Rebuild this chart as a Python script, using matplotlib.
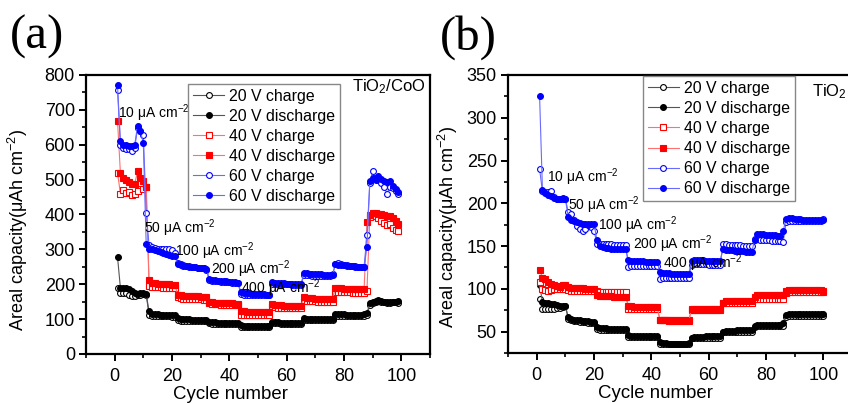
import numpy as np
import matplotlib
matplotlib.use("Agg")
import matplotlib.pyplot as plt
from matplotlib.ticker import MultipleLocator

# ---- data, panel (a): cycles 1..99 ----
cycles_a = np.arange(1, 100)
a_20_ch = [190, 175, 176, 174, 170, 165, 166, 168, 170, 172,
           170, 112, 110, 109, 109, 108, 108, 108, 108, 107, 107,
           97, 96, 96, 95, 95, 95, 95, 94, 94, 94, 94,
           88, 87, 87, 87, 86, 86, 86, 86, 86, 86, 86,
           78, 77, 77, 77, 77, 77, 77, 77, 77, 77, 78,
           88, 88, 88, 87, 87, 87, 87, 87, 87, 87, 87,
           98, 98, 97, 97, 97, 97, 97, 97, 97, 97, 97,
           110, 110, 110, 110, 110, 110, 109, 109, 109, 109, 110,
           112, 140, 147, 150, 152, 150, 148, 146, 145, 148, 148, 145]
a_20_dis = [278, 190, 190, 188, 186, 180, 176, 172, 175, 176,
            172, 122, 116, 115, 114, 113, 113, 112, 112, 112, 112,
            102, 100, 100, 99, 99, 98, 98, 98, 98, 97, 97,
            92, 91, 91, 90, 90, 90, 90, 89, 89, 89, 89,
            82, 81, 80, 80, 80, 80, 80, 80, 79, 79, 80,
            92, 91, 91, 90, 90, 90, 90, 90, 90, 90, 90,
            102, 101, 101, 100, 100, 100, 100, 100, 100, 100, 100,
            115, 114, 114, 114, 113, 113, 113, 113, 113, 113, 114,
            118, 145, 150, 152, 155, 152, 150, 148, 150, 150, 150, 152]
a_40_ch = [520, 460, 470, 462, 465, 455, 460, 468, 490, 472,
           480, 195, 193, 192, 191, 191, 190, 190, 190, 190, 189,
           162, 160, 159, 158, 158, 158, 157, 157, 157, 156, 156,
           145, 143, 142, 142, 141, 141, 141, 140, 140, 140, 140,
           113, 112, 112, 112, 111, 111, 111, 111, 111, 111, 112,
           134, 134, 133, 133, 133, 133, 132, 132, 132, 132, 132,
           152, 152, 151, 151, 151, 150, 150, 150, 150, 150, 150,
           178, 178, 177, 177, 177, 177, 176, 176, 176, 176, 176,
           182, 392, 400, 396, 390, 382, 375, 370, 372, 362, 355, 352]
a_40_dis = [668, 520, 505, 498, 492, 488, 487, 525, 505, 495,
            478, 212, 205, 203, 202, 201, 200, 200, 200, 199, 198,
            170, 168, 167, 166, 166, 165, 165, 165, 164, 164, 164,
            150, 148, 147, 147, 146, 146, 145, 145, 145, 144, 144,
            124, 122, 121, 121, 120, 120, 120, 120, 120, 119, 119,
            142, 141, 140, 140, 139, 139, 139, 138, 138, 138, 138,
            162, 161, 160, 160, 159, 159, 159, 158, 158, 158, 158,
            190, 188, 188, 187, 187, 186, 186, 186, 185, 185, 185,
            378, 398, 405, 403, 402, 400, 398, 396, 395, 390, 380, 372]
a_60_ch = [758, 600, 590, 588, 587, 582, 592, 648, 640, 628,
           405, 312, 308, 305, 302, 300, 300, 300, 300, 298, 290,
           262, 258, 255, 253, 251, 250, 249, 248, 247, 246, 240,
           212, 210, 209, 208, 207, 207, 206, 206, 205, 205, 205,
           172, 170, 169, 169, 168, 168, 168, 168, 168, 168, 170,
           200, 201, 201, 200, 200, 200, 200, 199, 199, 199, 198,
           226, 227, 226, 225, 225, 225, 224, 224, 224, 223, 228,
           258, 260, 258, 256, 254, 253, 252, 251, 250, 250, 250,
           340, 490, 525, 505, 498, 490, 478, 460, 480, 475, 468, 460]
a_60_dis = [770, 610, 600, 598, 597, 596, 600, 655, 638, 605,
            315, 302, 300, 298, 296, 293, 290, 288, 285, 282, 280,
            258, 255, 253, 252, 250, 250, 249, 248, 247, 246, 245,
            216, 213, 211, 210, 209, 208, 208, 207, 206, 206, 205,
            178, 176, 175, 174, 173, 172, 172, 171, 171, 170, 170,
            206, 205, 204, 203, 203, 202, 202, 201, 201, 200, 200,
            232, 231, 230, 229, 229, 228, 228, 227, 227, 226, 226,
            257, 256, 255, 254, 253, 252, 251, 250, 250, 249, 249,
            308, 495, 505, 500, 510, 502, 495, 492, 497, 482, 472, 465]

# ---- data, panel (b): cycles 1..100 ----
cycles_b = np.arange(1, 101)
b_20_ch = [88, 77, 76, 76, 77, 77, 78, 78, 79, 80,
           65, 63, 62, 62, 61, 61, 61, 60, 60, 60,
           53, 52, 52, 52, 52, 52, 52, 52, 52, 52, 52,
           44, 44, 44, 44, 44, 44, 44, 44, 44, 44, 44,
           36, 35, 35, 35, 35, 35, 35, 35, 35, 35, 36,
           42, 43, 43, 43, 43, 43, 43, 43, 43, 43, 43,
           49, 50, 50, 50, 50, 50, 50, 50, 50, 50, 50,
           55, 56, 56, 56, 56, 56, 56, 56, 56, 56, 57,
           67, 68, 68, 68, 68, 68, 68, 68, 68, 68, 68, 68, 68, 68]
b_20_dis = [104, 85, 84, 83, 82, 82, 81, 80, 80, 80,
            67, 65, 64, 63, 63, 62, 62, 62, 61, 61,
            55, 54, 54, 54, 53, 53, 53, 53, 53, 53, 53,
            46, 45, 45, 45, 45, 45, 45, 45, 45, 45, 45,
            38, 37, 37, 36, 36, 36, 36, 36, 36, 36, 37,
            43, 44, 44, 44, 44, 45, 45, 45, 45, 45, 45,
            50, 51, 51, 51, 51, 52, 52, 52, 52, 52, 52,
            57, 58, 58, 58, 58, 58, 58, 58, 58, 58, 60,
            69, 70, 71, 71, 71, 71, 70, 70, 70, 70, 70, 70, 70, 70]
b_40_ch = [108, 100, 99, 98, 99, 100, 100, 100, 100, 100,
           99, 98, 98, 98, 98, 98, 98, 98, 97, 97,
           97, 96, 96, 96, 96, 96, 96, 96, 96, 96, 96,
           77, 77, 77, 77, 77, 77, 77, 77, 77, 77, 77,
           64, 64, 64, 63, 63, 63, 63, 63, 63, 63, 63,
           75, 75, 75, 75, 75, 75, 75, 75, 75, 75, 75,
           84, 84, 84, 84, 84, 84, 84, 84, 84, 84, 84,
           88, 88, 88, 88, 88, 88, 88, 88, 88, 88, 88,
           95, 96, 96, 96, 96, 96, 96, 96, 96, 96, 96, 96, 96, 96]
b_40_dis = [122, 113, 111, 108, 106, 104, 103, 102, 104, 105,
            102, 101, 101, 101, 101, 101, 100, 100, 100, 100,
            93, 92, 92, 92, 92, 92, 91, 91, 91, 91, 91,
            80, 80, 79, 79, 79, 79, 79, 79, 79, 79, 79,
            64, 63, 63, 62, 62, 62, 62, 62, 62, 62, 62,
            76, 77, 77, 77, 77, 77, 77, 77, 77, 77, 77,
            84, 86, 86, 86, 86, 86, 86, 86, 86, 86, 86,
            91, 93, 93, 93, 93, 93, 93, 93, 93, 93, 93,
            98, 99, 99, 99, 99, 99, 99, 99, 99, 99, 99, 99, 99, 98]
b_60_ch = [240, 214, 213, 213, 214, 207, 205, 205, 205, 205,
           190, 188, 180, 173, 170, 168, 170, 176, 172, 168,
           153, 153, 152, 152, 152, 152, 151, 151, 151, 151, 151,
           126, 127, 127, 127, 127, 127, 127, 127, 127, 127, 127,
           111, 113, 113, 113, 113, 113, 113, 113, 113, 113, 113,
           128, 129, 129, 129, 129, 129, 128, 128, 128, 128, 128,
           152, 152, 151, 151, 151, 151, 151, 150, 150, 150, 150,
           158, 158, 157, 157, 157, 157, 156, 156, 156, 156, 155,
           178, 179, 179, 179, 179, 179, 179, 179, 179, 179, 179, 179, 179, 182]
b_60_dis = [326, 216, 212, 210, 208, 206, 205, 205, 206, 205,
            184, 181, 179, 178, 177, 176, 176, 175, 176, 176,
            157, 150, 149, 148, 148, 147, 147, 147, 146, 146, 146,
            134, 133, 132, 132, 132, 132, 131, 131, 131, 131, 131,
            120, 118, 118, 118, 117, 117, 117, 117, 117, 117, 117,
            133, 134, 134, 134, 134, 133, 133, 133, 133, 133, 133,
            147, 145, 145, 145, 144, 144, 144, 144, 143, 143, 143,
            157, 164, 164, 164, 163, 163, 163, 163, 162, 162, 168,
            182, 183, 183, 182, 182, 182, 181, 181, 181, 181, 180, 180, 180, 180]

labels = ["20 V charge", "20 V discharge", "40 V charge",
          "40 V discharge", "60 V charge", "60 V discharge"]
rate_labels = ["10", "50", "100", "200", "400"]

plt.rcParams["font.family"] = ["Liberation Sans", "DejaVu Sans"]
plt.rcParams["mathtext.fontset"] = "custom"
plt.rcParams["mathtext.rm"] = "Liberation Sans"
plt.rcParams["mathtext.it"] = "Liberation Sans:italic"

fig = plt.figure(figsize=(8.48, 4.03), dpi=100)
ax_a = fig.add_axes([0.1014, 0.1216, 0.4057, 0.6923])
ax_b = fig.add_axes([0.5991, 0.1241, 0.4057, 0.6898])

styles = [("#555555", "black", "white", "o"),
          ("#555555", "black", "black", "o"),
          ("#ff7070", "red", "white", "s"),
          ("#ff7070", "red", "red", "s"),
          ("#6a6aff", "blue", "white", "o"),
          ("#6a6aff", "blue", "blue", "o")]


def draw(ax, x, series):
    for y, lab, (lc, mc, fc, mk) in zip(series, labels, styles):
        ax.plot(x, y, color=lc, lw=0.8, marker=mk, ms=4.2, mec=mc, mfc=fc,
                mew=0.8, label=lab)


draw(ax_a, cycles_a, [a_20_ch, a_20_dis, a_40_ch, a_40_dis, a_60_ch, a_60_dis])
draw(ax_b, cycles_b, [b_20_ch, b_20_dis, b_40_ch, b_40_dis, b_60_ch, b_60_dis])

ax_a.set_xlim(-10, 110)
ax_a.set_ylim(0, 800)
ax_a.yaxis.set_major_locator(MultipleLocator(100))
ax_a.yaxis.set_minor_locator(MultipleLocator(50))
ax_b.set_xlim(-10, 110)
ax_b.set_ylim(25, 350)
ax_b.yaxis.set_major_locator(MultipleLocator(50))
ax_b.yaxis.set_minor_locator(MultipleLocator(25))

for ax in (ax_a, ax_b):
    ax.xaxis.set_major_locator(MultipleLocator(20))
    ax.xaxis.set_minor_locator(MultipleLocator(10))
    for s in ax.spines.values():
        s.set_linewidth(1.6)
    ax.tick_params(which="major", direction="out", length=5, width=1.4, labelsize=13, pad=3)
    ax.tick_params(which="minor", direction="out", length=3, width=1.2)
    ax.tick_params(axis="x", labelsize=13, pad=5)
    ax.set_xlabel("Cycle number", fontsize=13.4)
    ax.set_ylabel("Areal capacity(μAh cm$^{-2}$)", fontsize=13)
    leg = ax.legend(loc="upper left", fontsize=11.4, frameon=True, fancybox=False,
                    edgecolor="#888888", framealpha=1, handlelength=2.0,
                    handletextpad=0.3, labelspacing=0.32, borderpad=0.3,
                    borderaxespad=0)
    leg.get_frame().set_linewidth(1.0)

ax_a.get_legend().set_bbox_to_anchor((0.2965, 0.968), transform=ax_a.transAxes)
ax_b.get_legend().set_bbox_to_anchor((0.392, 0.996), transform=ax_b.transAxes)

ax_a.xaxis.set_label_coords(0.419, -0.145)
ax_b.xaxis.set_label_coords(0.427, -0.145)
ax_a.xaxis.label.set_va("center")
ax_b.xaxis.label.set_va("center")
ax_a.yaxis.set_label_coords(-0.163, 0.444)
ax_b.yaxis.set_label_coords(-0.14, 0.453)

# current density annotations
pos_a = [(1.0, 690), (10.4, 361), (21.2, 296), (33.7, 243), (44.1, 188)]
pos_b = [(3.5, 231), (10.8, 198), (21.3, 174), (33.6, 152.5), (44.1, 130)]
for ax, pos in ((ax_a, pos_a), (ax_b, pos_b)):
    for r, (x, y) in zip(rate_labels, pos):
        ax.text(x, y, r + " μA cm$^{-2}$", fontsize=10, ha="left", va="center")

ax_a.text(0.773, 0.96, "TiO$_2$/CoO", transform=ax_a.transAxes, fontsize=12,
          ha="left", va="center")
ax_b.text(0.884, 0.94, "TiO$_2$", transform=ax_b.transAxes, fontsize=12,
          ha="left", va="center")

fig.text(0.012, 0.908, "(a)", family="Liberation Serif", fontsize=35, ha="left", va="center")
fig.text(0.519, 0.908, "(b)", family="Liberation Serif", fontsize=35, ha="left", va="center")

fig.savefig("out.png", dpi=100)
